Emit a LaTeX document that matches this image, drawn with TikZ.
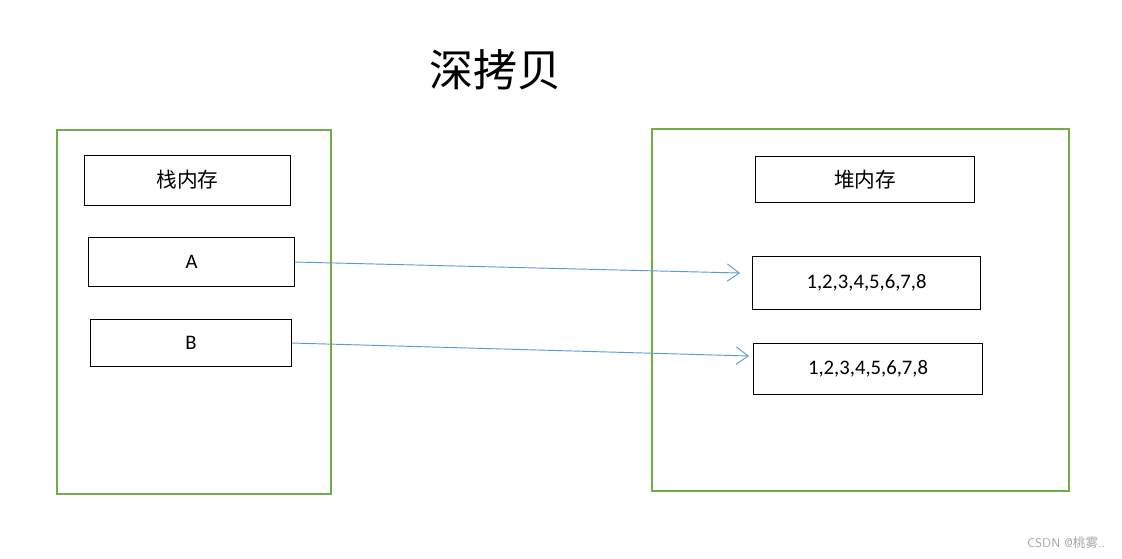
\documentclass[tikz,border=0pt]{standalone}
\usepackage{fontspec}
\setmainfont{Carlito}
\newfontfamily\cjk{Noto Sans CJK SC}
\usetikzlibrary{arrows.meta}
\definecolor{offgreen}{HTML}{70AD47}
\definecolor{offblue}{HTML}{5B9BD5}
\tikzset{
  region/.style={draw=offgreen, line width=1.5pt},
  cell/.style={draw=black, line width=0.8pt, font=\fontsize{15.5}{18}\selectfont},
  link/.style={draw=offblue, line width=0.7pt, -{Straight Barb[length=9pt,width=13pt,line width=0.7pt]}},
}
\begin{document}
\begin{tikzpicture}[x=0.75pt,y=-0.75pt]
\useasboundingbox[fill=white] (0,0) rectangle (1122,559);
\node (title) at (495,70) {\cjk\fontsize{33}{36}\selectfont 深拷贝};
\draw[region] (57,130) rectangle (331,494);
\draw[region] (652,129) rectangle (1069,491);
\node[cell, minimum width=206*0.75pt, minimum height=50*0.75pt, anchor=north west] (stack) at (84,155) {\cjk\fontsize{15.5}{18}\selectfont\raisebox{2pt}{栈内存}};
\node[cell, minimum width=206*0.75pt, minimum height=49*0.75pt, anchor=north west] (A) at (88,237) {A};
\node[cell, minimum width=201*0.75pt, minimum height=47*0.75pt, anchor=north west] (B) at (90,319) {B};
\node[cell, minimum width=219*0.75pt, minimum height=46*0.75pt, anchor=north west] (heap) at (755,156) {\cjk\fontsize{15.5}{18}\selectfont\raisebox{1pt}{堆内存}};
\node[cell, minimum width=228*0.75pt, minimum height=53*0.75pt, anchor=north west] (v1) at (752,256) {\raisebox{1pt}{1,2,3,4,5,6,7,8}};
\node[cell, minimum width=229*0.75pt, minimum height=51*0.75pt, anchor=north west] (v2) at (753,343) {\raisebox{1pt}{1,2,3,4,5,6,7,8}};
\coordinate (t1) at (740,273);
\coordinate (t2) at (749,356);
\draw[link] (A.east) -- (t1);
\draw[link] (B.east) -- (t2);
\node[text=gray!70, anchor=east, font=\fontsize{9.5}{11}\selectfont] (wm) at (1110,543) {\sffamily CSDN @{\cjk 桃雾}..};
\end{tikzpicture}
\end{document}
